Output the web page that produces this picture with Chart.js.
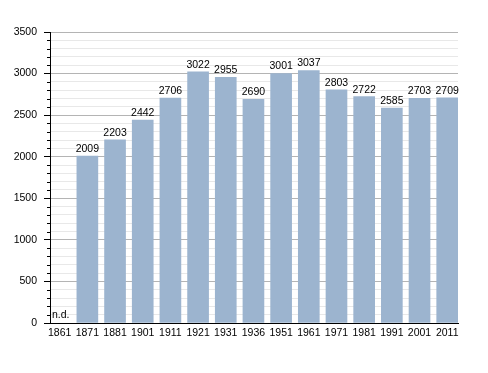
<!DOCTYPE html>
<html>
<head>
<meta charset="utf-8">
<script src="https://cdn.jsdelivr.net/npm/chart.js@4/dist/chart.umd.min.js"></script>
<style>
  html, body { margin: 0; padding: 0; background: #fff; }
  #wrap { width: 488px; height: 373px; }
</style>
</head>
<body>
<div id="wrap"><canvas id="popChart" width="488" height="373"></canvas></div>
<script>
// Données
const years = ['1861', '1871', '1881', '1901', '1911', '1921', '1931', '1936', '1951', '1961', '1971', '1981', '1991', '2001', '2011'];
const population = [null, 2009, 2203, 2442, 2706, 3022, 2955, 2690, 3001, 3037, 2803, 2722, 2585, 2703, 2709];
const missingLabel = 'n.d.';
const yMax = 3500;

const FONT = 'Liberation Sans, Arial, sans-serif';

// Étiquettes au-dessus des barres + petites graduations
const labelPlugin = {
    id: 'labels',
    afterDatasetsDraw(chart) {
        const ctx = chart.ctx;
        const meta = chart.getDatasetMeta(0);
        const yScale = chart.scales.y;
        const xScale = chart.scales.x;
        ctx.save();
        ctx.font = '10.5px ' + FONT;
        ctx.fillStyle = '#000';
        population.forEach((v, i) => {
            const x = xScale.getPixelForValue(i);
            if (v === null) {
                ctx.textAlign = 'left';
                ctx.textBaseline = 'alphabetic';
                ctx.fillText(missingLabel, chart.chartArea.left + 2, yScale.getPixelForValue(0) - 5);
            } else {
                ctx.textAlign = 'center';
                ctx.textBaseline = 'alphabetic';
                ctx.fillText(v, x, yScale.getPixelForValue(v) - 4);
            }
        });
        // graduations mineures
        const x0 = chart.chartArea.left;
        ctx.strokeStyle = '#000';
        ctx.lineWidth = 1;
        for (let v = 100; v < yMax; v += 100) {
            if (v % 500 === 0) continue;
            const y = Math.round(yScale.getPixelForValue(v)) + 0.5;
            ctx.beginPath();
            ctx.moveTo(x0 - 3, y);
            ctx.lineTo(x0, y);
            ctx.stroke();
        }
        ctx.restore();
    }
};

const ctx = document.getElementById('popChart').getContext('2d');
const chart = new Chart(ctx, {
    type: 'bar',
    data: {
        datasets: [{
            data: years.map((y, i) => ({ x: i, y: population[i] })),
            backgroundColor: '#9cb4cf',
            borderWidth: 0,
            barThickness: 21
        }]
    },
    options: {
        responsive: false,
        animation: false,
        layout: { padding: { left: 0, right: 30, top: 32, bottom: 0 } },
        plugins: {
            legend: { display: false },
            tooltip: { enabled: false }
        },
        scales: {
            x: {
                type: 'linear',
                min: -0.35,
                max: 14.39,
                offset: false,
                grid: { display: false, drawTicks: false },
                border: { color: '#000', width: 1 },
                ticks: {
                    color: '#000',
                    font: { family: FONT, size: 10.5 },
                    padding: 4,
                    maxRotation: 0,
                    autoSkip: false,
                    callback: (v) => years[v]
                },
                afterBuildTicks(scale) {
                    scale.ticks = years.map((y, i) => ({ value: i }));
                },
                afterFit(scale) { scale.height = 50; }
            },
            y: {
                min: 0,
                max: yMax,
                grid: {
                    color: (c) => (c.tick && c.tick.value % 500 === 0) ? '#b4b4b4' : '#e8e8e8',
                    tickColor: (c) => (c.tick && c.tick.value % 500 === 0) ? '#000' : 'rgba(0,0,0,0)',
                    tickLength: 6
                },
                border: { color: '#000', width: 1 },
                ticks: {
                    stepSize: 100,
                    color: '#000',
                    font: { family: FONT, size: 10.5 },
                    padding: 7,
                    autoSkip: false,
                    callback: (v) => v % 500 === 0 ? v : ''
                },
                afterFit(scale) { scale.width = 50; }
            }
        }
    },
    plugins: [labelPlugin]
});
</script>
</body>
</html>
